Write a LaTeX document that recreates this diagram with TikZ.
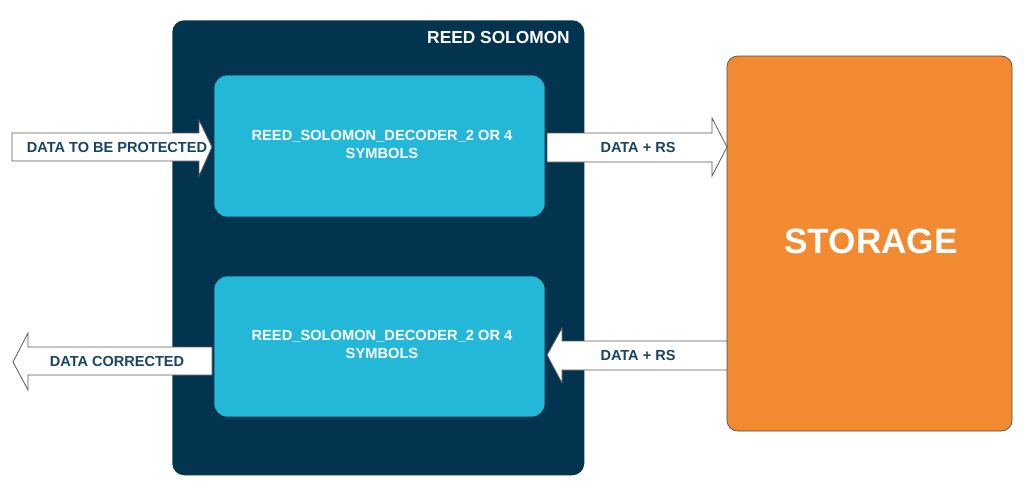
\documentclass[tikz,border=0pt]{standalone}
\usepackage{fontspec}
\setmainfont{Liberation Sans}
\definecolor{navy}{HTML}{03344F}
\definecolor{cyanbox}{HTML}{23B8D8}
\definecolor{orangebox}{HTML}{F28A32}
\definecolor{arrowtext}{HTML}{174563}
\definecolor{arrowline}{HTML}{5A5A5A}
\begin{document}
\begin{tikzpicture}[x=0.75pt,y=-0.75pt,
  blockarrow/.style={fill=white,draw=arrowline,line width=0.6pt,line join=miter},
  arrowlabel/.style={text=arrowtext,font=\bfseries\fontsize{10.9}{13}\selectfont,inner sep=0pt},
  innerbox/.style={fill=cyanbox,draw=navy!80!black,line width=0.4pt,rounded corners=10pt},
  innerlabel/.style={text=white,font=\bfseries\fontsize{11}{13.5}\selectfont,align=center,inner sep=0pt}]
\useasboundingbox (0,0) rectangle (1024,493);
% outer block
\node[fill=navy,rounded corners=9pt,minimum width=412*0.75pt,minimum height=455*0.75pt,inner sep=0pt,anchor=north west] (rs) at (172,20) {};
\node[text=white,font=\bfseries\fontsize{13}{15}\selectfont,inner sep=0pt] (rstitle) at (498.5,37.5) {REED SOLOMON};
% inner blocks
\draw[innerbox] (214,75) rectangle (545,217);
\node[innerlabel] (enc) at (382,144) {REED\_SOLOMON\_DECODER\_2 OR 4\\SYMBOLS};
\draw[innerbox] (214,276) rectangle (545,417);
\node[innerlabel] (dec) at (382,344) {REED\_SOLOMON\_DECODER\_2 OR 4\\SYMBOLS};
% storage
\draw[fill=orangebox,draw=black!70,line width=0.5pt,rounded corners=8pt] (727,56) rectangle (1012,431);
\node[text=white,font=\bfseries\fontsize{26.4}{30}\selectfont,inner sep=0pt] (storage) at (871,241) {STORAGE};
% arrow 1: data to be protected
\draw[blockarrow] (12,133) -- (199,133) -- (199,120) -- (212,147) -- (199,176) -- (199,161) -- (12,161) -- cycle;
\node[arrowlabel] (in) at (117,147) {DATA TO BE PROTECTED};
% arrow 2: data + rs to storage
\draw[blockarrow] (547,133) -- (712,133) -- (712,118) -- (727,147) -- (712,176) -- (712,162) -- (547,162) -- cycle;
\node[arrowlabel] (wr) at (638,147) {DATA + RS};
% arrow 3: data corrected
\draw[blockarrow] (212,347) -- (28,347) -- (28,333) -- (13,362) -- (28,390) -- (28,375) -- (212,375) -- cycle;
\node[arrowlabel] (out) at (117,361) {DATA CORRECTED};
% arrow 4: data + rs from storage
\draw[blockarrow] (727,341) -- (562,341) -- (562,328) -- (547,355) -- (562,383) -- (562,370) -- (727,370) -- cycle;
\node[arrowlabel] (rd) at (638,355) {DATA + RS};
\end{tikzpicture}
\end{document}
